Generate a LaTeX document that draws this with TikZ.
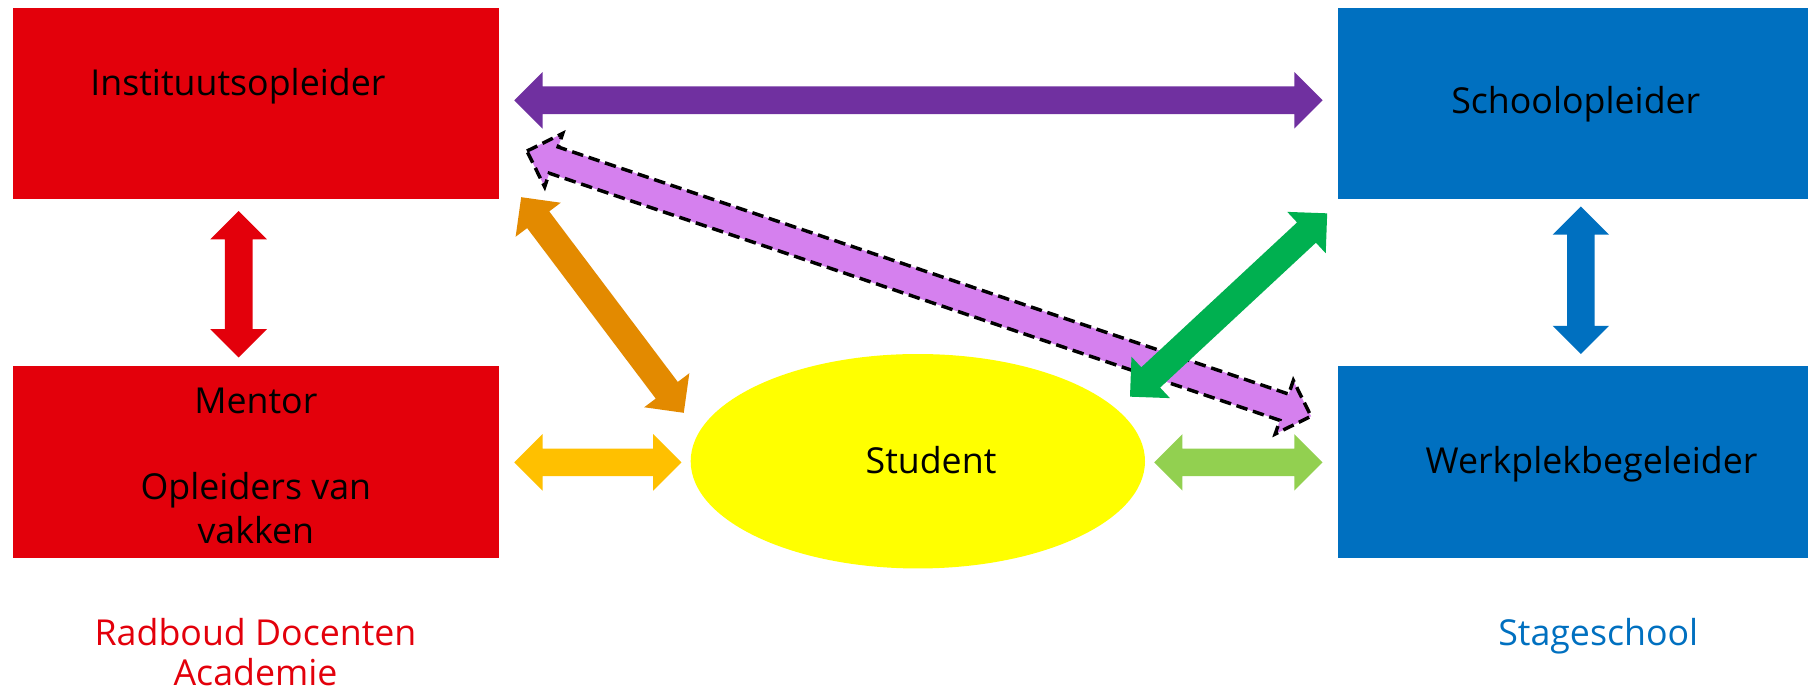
\documentclass[tikz,border=0pt]{standalone}
\usepackage{fontspec}
\setmainfont{Open Sans}
\usetikzlibrary{calc,shapes.geometric}
\definecolor{rdred}{RGB}{227,0,11}
\definecolor{ssblue}{RGB}{0,112,192}
\definecolor{apurple}{RGB}{112,48,160}
\definecolor{alilac}{RGB}{213,128,238}
\definecolor{aorange}{RGB}{227,138,0}
\definecolor{agreen}{RGB}{0,176,80}
\definecolor{ayellow}{RGB}{255,192,0}
\definecolor{alime}{RGB}{146,208,80}
\definecolor{syellow}{RGB}{255,255,0}
\def\ahl{12.25pt}\def\ahh{12.25pt}\def\ahw{6pt}
\newcommand\dblarrow[3]{%
 \path[#3] (#1) -- ($(#1)!\ahl!(#2)!\ahh!90:(#2)$) -- ($(#1)!\ahl!(#2)!\ahw!90:(#2)$)
 -- ($(#2)!\ahl!(#1)!\ahw!-90:(#1)$) -- ($(#2)!\ahl!(#1)!\ahh!-90:(#1)$) -- (#2)
 -- ($(#2)!\ahl!(#1)!\ahh!90:(#1)$) -- ($(#2)!\ahl!(#1)!\ahw!90:(#1)$)
 -- ($(#1)!\ahl!(#2)!\ahw!-90:(#2)$) -- ($(#1)!\ahl!(#2)!\ahh!-90:(#2)$) -- cycle;}
\tikzset{
 box/.style={rectangle, inner sep=0pt, draw=none},
 redbox/.style={box, fill=rdred, minimum width=211pt, minimum height=83pt},
 bluebox/.style={box, fill=ssblue, minimum width=204pt, minimum height=83pt},
 txt/.style={inner sep=0pt, anchor=base, font=\fontsize{15.5}{18.75}\selectfont},
}
\begin{document}
\begin{tikzpicture}[x=0.5pt,y=-0.5pt]
\path[use as bounding box, fill=white] (0,0) rectangle (1568,602);
% boxes
\node[redbox] (inst) at (222,90) {};
\node[redbox] (ment) at (222,400.5) {};
\node[bluebox] (school) at (1364,90) {};
\node[bluebox] (werk) at (1364,400.5) {};
\node[ellipse, fill=syellow, inner sep=0pt, minimum width=197pt, minimum height=93pt] (stud) at (796,400) {};
% texts
\node[txt] (tinst) at (206.3,82.4) {Instituutsopleider};
\node[txt] (tment1) at (221.9,358.4) {Mentor};
\node[txt] (tment2) at (221.9,433.6) {Opleiders van};
\node[txt] (tment3) at (221.9,471.2) {vakken};
\node[txt] (tschool) at (1366.6,98.3) {Schoolopleider};
\node[txt] (twerk) at (1380.3,410.5) {Werkplekbegeleider};
\node[txt] (tstud) at (807.4,410.5) {Student};
\node[txt, text=rdred] (trda1) at (221.6,559.4) {Radboud Docenten};
\node[txt, text=rdred] (trda2) at (221.6,594.9) {Academie};
\node[txt, text=ssblue] (tstage) at (1386.1,559.4) {Stageschool};
% arrow end points
\coordinate (pa1) at (446,87);  \coordinate (pa2) at (1147,87);
\coordinate (da1) at (457,131); \coordinate (da2) at (1137,361);
\coordinate (or1) at (452,171); \coordinate (or2) at (593,358);
\coordinate (gr1) at (980,344); \coordinate (gr2) at (1151,185);
\coordinate (ye1) at (446,401); \coordinate (ye2) at (591,401);
\coordinate (lg1) at (1001,401); \coordinate (lg2) at (1147,401);
\coordinate (rd1) at (207,183); \coordinate (rd2) at (207,310);
\coordinate (bl1) at (1371,179); \coordinate (bl2) at (1371,307);
% arrows
\dblarrow{pa1}{pa2}{fill=apurple}
\dblarrow{da1}{da2}{fill=alilac, draw=black, line width=1.5pt, dash pattern=on 5pt off 2.5pt}
\dblarrow{or1}{or2}{fill=aorange}
\dblarrow{gr1}{gr2}{fill=agreen}
\dblarrow{ye1}{ye2}{fill=ayellow}
\dblarrow{lg1}{lg2}{fill=alime}
\dblarrow{rd1}{rd2}{fill=rdred}
\dblarrow{bl1}{bl2}{fill=ssblue}
\end{tikzpicture}
\end{document}
